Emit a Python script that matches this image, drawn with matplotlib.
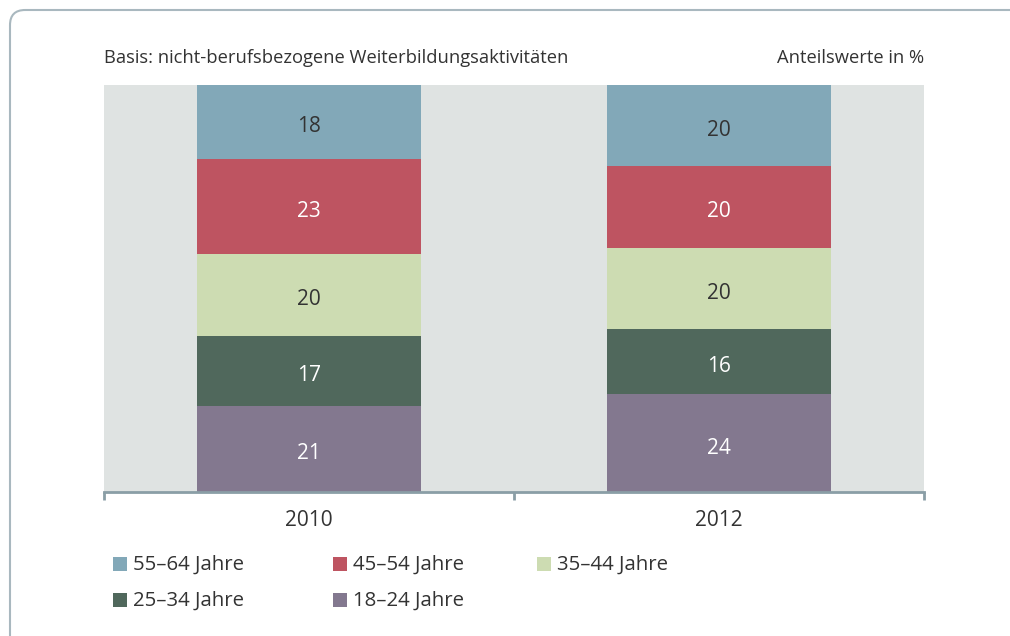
import matplotlib.pyplot as plt
from matplotlib.patches import FancyBboxPatch, Rectangle

plt.rcParams['font.family'] = ['Open Sans', 'DejaVu Sans']

years = ['2010', '2012']
groups = ['18–24 Jahre', '25–34 Jahre', '35–44 Jahre', '45–54 Jahre', '55–64 Jahre']
values = {
    '18–24 Jahre': [21, 24],
    '25–34 Jahre': [17, 16],
    '35–44 Jahre': [20, 20],
    '45–54 Jahre': [23, 20],
    '55–64 Jahre': [18, 20],
}
colors = {
    '18–24 Jahre': '#83788f',
    '25–34 Jahre': '#50685c',
    '35–44 Jahre': '#cddcb2',
    '45–54 Jahre': '#be5461',
    '55–64 Jahre': '#82a8b8',
}
label_colors = {
    '18–24 Jahre': 'white',
    '25–34 Jahre': 'white',
    '35–44 Jahre': '#333333',
    '45–54 Jahre': 'white',
    '55–64 Jahre': '#333333',
}
legend_order = ['55–64 Jahre', '45–54 Jahre', '35–44 Jahre', '25–34 Jahre', '18–24 Jahre']

W, H = 1010, 636
fig = plt.figure(figsize=(W / 100, H / 100), dpi=100)

# rounded outer frame
frame = FancyBboxPatch((10 / W, -0.05), 1.2, (H - 10) / H + 0.05,
                       boxstyle='round,pad=0,rounding_size=0.015',
                       transform=fig.transFigure, fill=False,
                       edgecolor='#a9b8bf', linewidth=1.5, mutation_aspect=W / H)
fig.patches.append(frame)

ax = fig.add_axes([104 / W, 1 - 492 / H, (924 - 104) / W, (492 - 85) / H])
ax.set_facecolor('#dfe3e2')

x = [0.5, 1.5]
totals = [sum(values[g][i] for g in groups) for i in range(len(years))]
bottoms = [0.0, 0.0]
for g in groups:
    shares = [values[g][i] / totals[i] * 100 for i in range(len(years))]
    ax.bar(x, shares, width=0.544, bottom=bottoms, color=colors[g], linewidth=0)
    for i in range(len(years)):
        ax.annotate(str(values[g][i]), (x[i], bottoms[i] + shares[i] / 2),
                    xytext=(0, -3.5), textcoords='offset points',
                    ha='center', va='center', fontsize=15, color=label_colors[g])
    bottoms = [bottoms[i] + shares[i] for i in range(len(years))]

ax.set_xlim(0, 2)
ax.set_ylim(0, 100)
ax.set_yticks([])
ax.set_xticks([0, 1, 2])
ax.set_xticklabels([])
ax.set_xticks(x, minor=True)
ax.set_xticklabels(years, minor=True, fontsize=15, color='#333333')
ax.tick_params(axis='x', which='major', length=6, width=2, color='#8a9ea6', direction='out')
ax.tick_params(axis='x', which='minor', length=0, pad=13)
for s in ['top', 'left', 'right']:
    ax.spines[s].set_visible(False)
ax.spines['bottom'].set_color('#8a9ea6')
ax.spines['bottom'].set_linewidth(2)

fig.text(104 / W, 1 - 58 / H, 'Basis: nicht-berufsbezogene Weiterbildungsaktivitäten',
         ha='left', va='center', fontsize=13.2, color='#333333')
fig.text(924 / W, 1 - 58 / H, 'Anteilswerte in %',
         ha='right', va='center', fontsize=13.2, color='#333333')

# legend
leg_x = [113, 333, 537]
leg_y = [564, 600]
for k, g in enumerate(legend_order):
    lx = leg_x[k % 3]
    ly = leg_y[k // 3]
    fig.patches.append(Rectangle((lx / W, 1 - (ly + 7) / H), 14 / W, 14 / H,
                                 transform=fig.transFigure, facecolor=colors[g],
                                 edgecolor='none'))
    fig.text((lx + 20) / W, 1 - (ly + 1) / H, g, ha='left', va='center',
             fontsize=14.7, color='#333333')

fig.savefig('out.png', dpi=100)
